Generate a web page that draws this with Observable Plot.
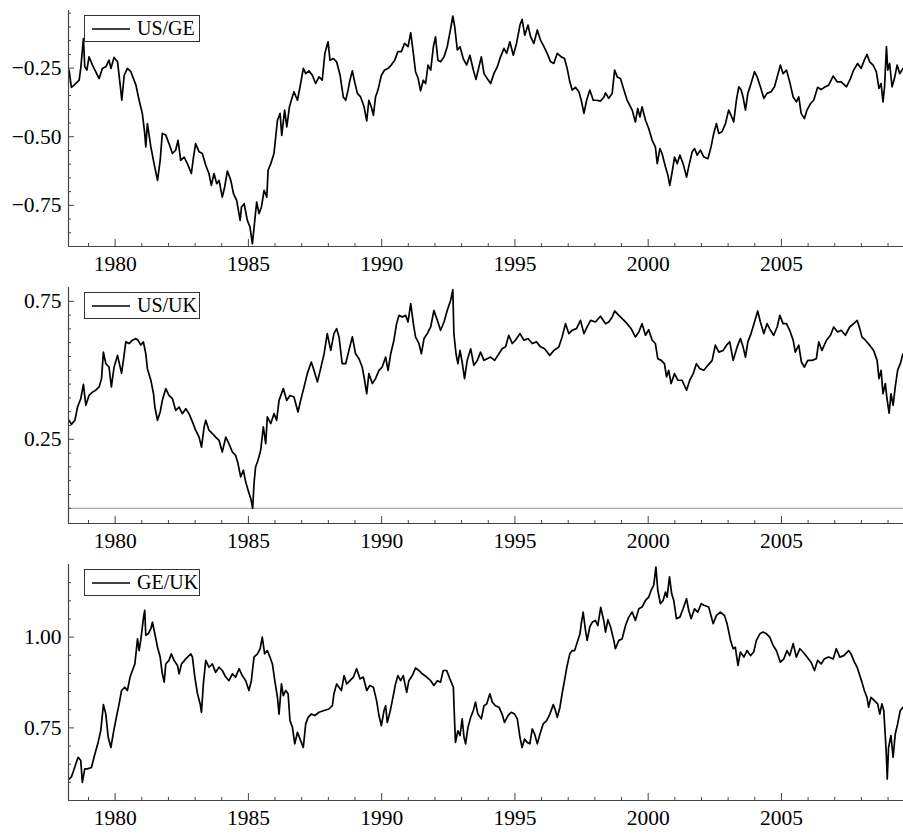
<!DOCTYPE html>
<html>
<head>
<meta charset="utf-8">
<script src="https://cdn.jsdelivr.net/npm/d3@7"></script>
<script src="https://cdn.jsdelivr.net/npm/@observablehq/plot@0.6"></script>
<style>
  html, body { margin: 0; padding: 0; background: #fff; }
  #wrap { position: relative; width: 903px; }
  .panel { position: relative; width: 903px; height: 277px; }
  .panel svg { display: block; }
  .legend {
    position: absolute; left: 84px; width: 116px; height: 27px;
    box-sizing: border-box; border: 1px solid #333; background: #fff;
    display: flex; align-items: center; padding-left: 7px;
    font-family: "Liberation Serif", "DejaVu Serif", serif; font-size: 20px; color: #000;
  }
  .legend svg { display: block; margin-right: 7px; }
</style>
</head>
<body>
<div id="wrap"></div>
<script>
// ---------- data (decimal year, log rate) ----------
const usGe = [
[1978.27,-0.257],[1978.36,-0.32],[1978.46,-0.312],[1978.65,-0.294],[1978.71,-0.25],[1978.81,-0.142],[1978.86,-0.245],[1978.94,-0.257],
[1979.02,-0.209],[1979.15,-0.239],[1979.27,-0.263],[1979.4,-0.288],[1979.52,-0.251],[1979.65,-0.245],[1979.77,-0.221],[1979.84,-0.251],
[1979.96,-0.211],[1980.09,-0.227],[1980.19,-0.312],[1980.25,-0.367],[1980.34,-0.276],[1980.46,-0.251],[1980.59,-0.263],[1980.71,-0.294],
[1980.78,-0.312],[1980.9,-0.367],[1981.02,-0.415],[1981.11,-0.488],[1981.15,-0.537],[1981.21,-0.452],[1981.34,-0.537],[1981.46,-0.598],
[1981.59,-0.659],[1981.69,-0.586],[1981.77,-0.488],[1981.9,-0.494],[1982.02,-0.525],[1982.15,-0.561],[1982.27,-0.549],[1982.36,-0.513],
[1982.46,-0.586],[1982.59,-0.574],[1982.71,-0.598],[1982.86,-0.634],[1982.94,-0.574],[1983.02,-0.525],[1983.15,-0.555],[1983.27,-0.561],
[1983.4,-0.604],[1983.52,-0.634],[1983.61,-0.677],[1983.71,-0.634],[1983.81,-0.671],[1983.9,-0.659],[1984.02,-0.72],[1984.11,-0.683],
[1984.21,-0.625],[1984.34,-0.659],[1984.44,-0.707],[1984.56,-0.732],[1984.69,-0.805],[1984.74,-0.756],[1984.84,-0.744],[1984.96,-0.805],
[1985.06,-0.829],[1985.15,-0.89],[1985.24,-0.805],[1985.31,-0.738],[1985.4,-0.78],[1985.49,-0.756],[1985.59,-0.695],[1985.69,-0.72],
[1985.74,-0.622],[1985.84,-0.598],[1985.96,-0.561],[1986.09,-0.44],[1986.19,-0.415],[1986.25,-0.495],[1986.36,-0.403],[1986.44,-0.464],
[1986.54,-0.391],[1986.61,-0.367],[1986.71,-0.336],[1986.84,-0.367],[1986.96,-0.306],[1987.06,-0.251],[1987.15,-0.27],[1987.27,-0.26],
[1987.4,-0.276],[1987.52,-0.306],[1987.65,-0.282],[1987.77,-0.294],[1987.87,-0.196],[1987.99,-0.154],[1988.06,-0.221],[1988.19,-0.215],
[1988.31,-0.227],[1988.44,-0.276],[1988.56,-0.355],[1988.65,-0.367],[1988.74,-0.33],[1988.81,-0.294],[1988.9,-0.26],[1989.0,-0.306],
[1989.09,-0.342],[1989.21,-0.355],[1989.34,-0.391],[1989.44,-0.442],[1989.52,-0.367],[1989.61,-0.391],[1989.69,-0.422],[1989.77,-0.355],
[1989.86,-0.33],[1989.99,-0.276],[1990.11,-0.257],[1990.24,-0.251],[1990.36,-0.239],[1990.49,-0.221],[1990.61,-0.19],[1990.74,-0.19],
[1990.86,-0.16],[1990.99,-0.172],[1991.09,-0.121],[1991.19,-0.196],[1991.27,-0.263],[1991.37,-0.288],[1991.46,-0.333],[1991.56,-0.294],
[1991.65,-0.306],[1991.74,-0.239],[1991.84,-0.257],[1991.94,-0.172],[1992.02,-0.136],[1992.11,-0.221],[1992.21,-0.227],[1992.34,-0.209],
[1992.46,-0.172],[1992.59,-0.105],[1992.67,-0.06],[1992.74,-0.099],[1992.84,-0.184],[1992.94,-0.172],[1993.06,-0.215],[1993.19,-0.239],
[1993.31,-0.203],[1993.44,-0.257],[1993.54,-0.291],[1993.65,-0.245],[1993.74,-0.209],[1993.84,-0.27],[1993.96,-0.288],[1994.09,-0.306],
[1994.21,-0.27],[1994.34,-0.245],[1994.46,-0.209],[1994.59,-0.178],[1994.69,-0.196],[1994.81,-0.154],[1994.94,-0.203],[1995.06,-0.16],
[1995.19,-0.093],[1995.27,-0.072],[1995.37,-0.13],[1995.49,-0.093],[1995.59,-0.136],[1995.71,-0.16],[1995.84,-0.111],[1995.96,-0.148],
[1996.09,-0.172],[1996.21,-0.196],[1996.34,-0.227],[1996.46,-0.233],[1996.59,-0.196],[1996.74,-0.209],[1996.86,-0.215],[1996.96,-0.251],
[1997.06,-0.3],[1997.15,-0.33],[1997.27,-0.32],[1997.4,-0.336],[1997.49,-0.367],[1997.59,-0.415],[1997.69,-0.367],[1997.81,-0.33],
[1997.94,-0.367],[1998.06,-0.367],[1998.21,-0.37],[1998.34,-0.355],[1998.4,-0.34],[1998.52,-0.36],[1998.65,-0.342],[1998.74,-0.257],
[1998.84,-0.282],[1998.96,-0.288],[1999.09,-0.33],[1999.21,-0.367],[1999.4,-0.403],[1999.52,-0.446],[1999.61,-0.397],[1999.69,-0.428],
[1999.77,-0.391],[1999.9,-0.44],[2000.02,-0.47],[2000.15,-0.513],[2000.27,-0.537],[2000.34,-0.598],[2000.44,-0.543],[2000.52,-0.561],
[2000.65,-0.61],[2000.74,-0.64],[2000.81,-0.677],[2000.9,-0.628],[2000.99,-0.574],[2001.09,-0.598],[2001.19,-0.567],[2001.31,-0.598],
[2001.44,-0.647],[2001.52,-0.61],[2001.65,-0.555],[2001.74,-0.543],[2001.84,-0.567],[2001.96,-0.549],[2002.09,-0.574],[2002.24,-0.58],
[2002.36,-0.537],[2002.46,-0.488],[2002.56,-0.452],[2002.65,-0.488],[2002.77,-0.482],[2002.9,-0.452],[2003.02,-0.403],[2003.11,-0.422],
[2003.21,-0.446],[2003.31,-0.367],[2003.4,-0.318],[2003.49,-0.33],[2003.56,-0.355],[2003.65,-0.403],[2003.74,-0.342],[2003.86,-0.306],
[2003.99,-0.263],[2004.09,-0.282],[2004.21,-0.318],[2004.34,-0.36],[2004.46,-0.342],[2004.61,-0.336],[2004.74,-0.318],[2004.84,-0.282],
[2004.96,-0.239],[2005.06,-0.27],[2005.19,-0.257],[2005.31,-0.3],[2005.44,-0.355],[2005.56,-0.373],[2005.65,-0.355],[2005.74,-0.415],
[2005.86,-0.434],[2005.96,-0.403],[2006.09,-0.379],[2006.21,-0.367],[2006.36,-0.32],[2006.49,-0.328],[2006.61,-0.32],[2006.77,-0.312],
[2006.94,-0.279],[2007.09,-0.3],[2007.24,-0.3],[2007.44,-0.318],[2007.59,-0.288],[2007.71,-0.257],[2007.86,-0.233],[2007.99,-0.251],
[2008.11,-0.221],[2008.21,-0.2],[2008.31,-0.227],[2008.44,-0.239],[2008.56,-0.263],[2008.66,-0.324],[2008.74,-0.306],[2008.81,-0.373],
[2008.87,-0.318],[2008.94,-0.172],[2008.99,-0.257],[2009.06,-0.233],[2009.15,-0.318],[2009.24,-0.288],[2009.34,-0.239],[2009.44,-0.27],
[2009.56,-0.251]
];

const usUk = [
[1978.27,0.319],[1978.36,0.304],[1978.49,0.319],[1978.59,0.367],[1978.71,0.397],[1978.81,0.449],[1978.9,0.373],[1979.02,0.409],
[1979.15,0.421],[1979.27,0.428],[1979.4,0.44],[1979.49,0.47],[1979.56,0.566],[1979.65,0.524],[1979.77,0.512],[1979.86,0.44],
[1979.96,0.512],[1980.09,0.554],[1980.24,0.49],[1980.31,0.536],[1980.4,0.603],[1980.52,0.597],[1980.65,0.609],[1980.78,0.615],
[1980.86,0.609],[1980.96,0.591],[1981.06,0.603],[1981.15,0.56],[1981.21,0.506],[1981.34,0.464],[1981.44,0.415],[1981.49,0.367],
[1981.59,0.319],[1981.69,0.349],[1981.77,0.391],[1981.9,0.434],[1982.02,0.409],[1982.15,0.397],[1982.27,0.355],[1982.4,0.367],
[1982.52,0.343],[1982.65,0.361],[1982.77,0.343],[1982.9,0.313],[1983.02,0.283],[1983.15,0.258],[1983.24,0.222],[1983.34,0.295],
[1983.4,0.319],[1983.52,0.283],[1983.65,0.271],[1983.77,0.258],[1983.9,0.246],[1984.02,0.204],[1984.15,0.258],[1984.27,0.234],
[1984.4,0.204],[1984.52,0.192],[1984.61,0.162],[1984.71,0.114],[1984.81,0.138],[1984.9,0.095],[1984.99,0.065],[1985.09,0.035],
[1985.16,0.0],[1985.21,0.089],[1985.27,0.15],[1985.36,0.174],[1985.46,0.21],[1985.56,0.295],[1985.65,0.234],[1985.71,0.331],
[1985.84,0.307],[1985.96,0.343],[1986.06,0.319],[1986.15,0.391],[1986.31,0.434],[1986.44,0.391],[1986.56,0.409],[1986.71,0.403],
[1986.86,0.349],[1986.96,0.391],[1987.09,0.44],[1987.21,0.488],[1987.36,0.53],[1987.46,0.5],[1987.59,0.458],[1987.71,0.506],
[1987.84,0.56],[1987.96,0.633],[1988.09,0.572],[1988.21,0.633],[1988.31,0.651],[1988.4,0.621],[1988.52,0.524],[1988.65,0.524],
[1988.77,0.572],[1988.9,0.621],[1989.02,0.56],[1989.15,0.542],[1989.27,0.512],[1989.36,0.464],[1989.44,0.415],[1989.52,0.488],
[1989.65,0.452],[1989.77,0.47],[1989.9,0.5],[1990.02,0.512],[1990.15,0.548],[1990.24,0.5],[1990.34,0.56],[1990.46,0.609],
[1990.56,0.669],[1990.65,0.699],[1990.77,0.693],[1990.9,0.699],[1990.99,0.675],[1991.09,0.742],[1991.19,0.669],[1991.27,0.621],
[1991.4,0.597],[1991.49,0.56],[1991.59,0.615],[1991.71,0.633],[1991.84,0.657],[1991.96,0.717],[1992.09,0.681],[1992.21,0.645],
[1992.34,0.675],[1992.46,0.717],[1992.59,0.754],[1992.67,0.792],[1992.71,0.633],[1992.79,0.56],[1992.86,0.524],[1992.94,0.572],
[1993.02,0.53],[1993.11,0.47],[1993.21,0.536],[1993.34,0.578],[1993.46,0.518],[1993.59,0.536],[1993.71,0.566],[1993.84,0.536],
[1993.96,0.542],[1994.09,0.548],[1994.24,0.536],[1994.4,0.56],[1994.52,0.578],[1994.65,0.585],[1994.77,0.627],[1994.9,0.597],
[1995.02,0.609],[1995.19,0.633],[1995.34,0.609],[1995.49,0.615],[1995.65,0.597],[1995.81,0.603],[1995.96,0.585],[1996.11,0.578],
[1996.31,0.554],[1996.46,0.572],[1996.65,0.585],[1996.77,0.621],[1996.9,0.669],[1997.02,0.633],[1997.15,0.645],[1997.31,0.651],
[1997.46,0.681],[1997.59,0.633],[1997.71,0.657],[1997.84,0.681],[1998.02,0.675],[1998.21,0.696],[1998.4,0.669],[1998.52,0.675],
[1998.65,0.693],[1998.74,0.715],[1998.9,0.699],[1999.09,0.681],[1999.21,0.669],[1999.36,0.651],[1999.52,0.621],[1999.65,0.639],
[1999.77,0.669],[1999.9,0.627],[2000.02,0.647],[2000.15,0.609],[2000.27,0.597],[2000.36,0.542],[2000.49,0.536],[2000.61,0.524],
[2000.69,0.476],[2000.77,0.5],[2000.86,0.452],[2000.99,0.488],[2001.11,0.464],[2001.27,0.464],[2001.44,0.428],[2001.56,0.464],
[2001.69,0.488],[2001.81,0.524],[2001.94,0.506],[2002.09,0.5],[2002.24,0.518],[2002.4,0.536],[2002.52,0.591],[2002.65,0.566],
[2002.81,0.572],[2002.94,0.591],[2003.06,0.603],[2003.19,0.536],[2003.34,0.585],[2003.46,0.615],[2003.56,0.585],[2003.65,0.548],
[2003.74,0.603],[2003.86,0.633],[2003.99,0.675],[2004.11,0.715],[2004.21,0.675],[2004.34,0.633],[2004.46,0.669],[2004.59,0.645],
[2004.71,0.627],[2004.84,0.657],[2004.94,0.699],[2005.06,0.669],[2005.19,0.669],[2005.31,0.645],[2005.44,0.609],[2005.52,0.566],
[2005.65,0.591],[2005.75,0.53],[2005.86,0.512],[2005.99,0.536],[2006.15,0.536],[2006.31,0.542],[2006.4,0.603],[2006.52,0.572],
[2006.69,0.609],[2006.84,0.627],[2006.96,0.657],[2007.11,0.639],[2007.24,0.645],[2007.4,0.627],[2007.56,0.657],[2007.71,0.669],
[2007.84,0.681],[2007.94,0.651],[2008.02,0.621],[2008.15,0.609],[2008.31,0.591],[2008.46,0.572],[2008.59,0.536],[2008.66,0.47],
[2008.74,0.5],[2008.81,0.415],[2008.9,0.452],[2008.96,0.397],[2009.04,0.345],[2009.11,0.415],[2009.19,0.373],[2009.27,0.44],
[2009.36,0.5],[2009.46,0.524],[2009.56,0.56]
];

const geUk = [
[1978.27,0.609],[1978.36,0.615],[1978.44,0.632],[1978.52,0.65],[1978.61,0.669],[1978.71,0.66],[1978.77,0.6],[1978.86,0.637],
[1978.96,0.637],[1979.11,0.641],[1979.24,0.678],[1979.36,0.71],[1979.46,0.742],[1979.56,0.814],[1979.65,0.788],[1979.74,0.724],
[1979.84,0.696],[1979.96,0.747],[1980.06,0.784],[1980.15,0.816],[1980.24,0.853],[1980.36,0.862],[1980.46,0.853],[1980.56,0.89],
[1980.65,0.908],[1980.74,0.926],[1980.84,0.995],[1980.9,0.963],[1980.96,0.991],[1981.06,1.051],[1981.11,1.074],[1981.15,1.005],
[1981.24,1.009],[1981.34,1.023],[1981.4,1.041],[1981.49,1.009],[1981.59,0.972],[1981.69,0.945],[1981.77,0.899],[1981.84,0.876],
[1981.9,0.926],[1982.02,0.936],[1982.11,0.954],[1982.21,0.936],[1982.34,0.922],[1982.4,0.899],[1982.49,0.926],[1982.65,0.94],
[1982.84,0.954],[1982.9,0.945],[1982.99,0.89],[1983.09,0.844],[1983.19,0.816],[1983.24,0.793],[1983.31,0.871],[1983.4,0.936],
[1983.52,0.917],[1983.65,0.926],[1983.77,0.903],[1983.9,0.917],[1984.02,0.908],[1984.15,0.89],[1984.27,0.88],[1984.4,0.899],
[1984.52,0.89],[1984.65,0.913],[1984.77,0.894],[1984.9,0.88],[1985.02,0.853],[1985.11,0.88],[1985.21,0.945],[1985.34,0.954],
[1985.44,0.968],[1985.52,1.0],[1985.61,0.954],[1985.71,0.963],[1985.81,0.945],[1985.9,0.926],[1985.99,0.88],[1986.09,0.834],
[1986.15,0.788],[1986.24,0.871],[1986.31,0.839],[1986.4,0.853],[1986.49,0.844],[1986.56,0.77],[1986.65,0.752],[1986.74,0.706],
[1986.84,0.738],[1986.96,0.715],[1987.06,0.696],[1987.15,0.761],[1987.24,0.779],[1987.36,0.788],[1987.49,0.784],[1987.65,0.793],
[1987.84,0.798],[1988.02,0.802],[1988.15,0.811],[1988.21,0.844],[1988.31,0.871],[1988.4,0.862],[1988.49,0.853],[1988.59,0.894],
[1988.69,0.871],[1988.81,0.88],[1988.94,0.89],[1989.06,0.913],[1989.19,0.885],[1989.31,0.89],[1989.44,0.853],[1989.56,0.867],
[1989.69,0.862],[1989.81,0.825],[1989.9,0.784],[1989.99,0.756],[1990.09,0.798],[1990.15,0.811],[1990.21,0.765],[1990.31,0.793],
[1990.4,0.825],[1990.52,0.871],[1990.61,0.894],[1990.71,0.88],[1990.81,0.894],[1990.94,0.848],[1991.02,0.88],[1991.15,0.894],
[1991.27,0.915],[1991.4,0.908],[1991.52,0.899],[1991.69,0.89],[1991.84,0.88],[1991.96,0.867],[1992.09,0.88],[1992.21,0.876],
[1992.31,0.908],[1992.44,0.908],[1992.56,0.885],[1992.69,0.862],[1992.74,0.761],[1992.77,0.71],[1992.86,0.742],[1992.94,0.729],
[1993.02,0.775],[1993.09,0.724],[1993.15,0.706],[1993.24,0.752],[1993.34,0.779],[1993.44,0.798],[1993.52,0.821],[1993.61,0.788],
[1993.74,0.775],[1993.84,0.811],[1993.94,0.816],[1994.06,0.844],[1994.15,0.821],[1994.27,0.811],[1994.4,0.807],[1994.52,0.788],
[1994.61,0.765],[1994.74,0.784],[1994.86,0.793],[1994.99,0.788],[1995.09,0.775],[1995.19,0.724],[1995.27,0.696],[1995.36,0.719],
[1995.46,0.71],[1995.56,0.706],[1995.65,0.747],[1995.74,0.733],[1995.84,0.706],[1995.94,0.733],[1996.06,0.761],[1996.19,0.77],
[1996.31,0.788],[1996.44,0.814],[1996.52,0.798],[1996.59,0.779],[1996.69,0.807],[1996.77,0.844],[1996.86,0.88],[1996.96,0.922],
[1997.06,0.954],[1997.15,0.963],[1997.24,0.963],[1997.34,0.986],[1997.44,1.009],[1997.49,1.037],[1997.56,1.069],[1997.65,1.018],
[1997.71,0.991],[1997.81,1.028],[1997.9,1.041],[1998.02,1.046],[1998.11,1.032],[1998.22,1.082],[1998.34,1.043],[1998.4,1.014],
[1998.49,1.048],[1998.59,1.028],[1998.71,0.991],[1998.77,0.968],[1998.9,0.991],[1999.02,0.995],[1999.15,1.032],[1999.27,1.055],
[1999.4,1.069],[1999.52,1.046],[1999.65,1.078],[1999.77,1.083],[1999.9,1.101],[2000.02,1.11],[2000.11,1.129],[2000.21,1.143],
[2000.29,1.193],[2000.36,1.129],[2000.46,1.092],[2000.56,1.101],[2000.65,1.124],[2000.71,1.11],[2000.8,1.166],[2000.88,1.12],
[2000.96,1.101],[2001.06,1.051],[2001.19,1.055],[2001.31,1.078],[2001.44,1.106],[2001.52,1.074],[2001.61,1.051],[2001.74,1.078],
[2001.86,1.069],[2001.99,1.092],[2002.11,1.087],[2002.27,1.083],[2002.44,1.037],[2002.56,1.06],[2002.71,1.069],[2002.86,1.06],
[2002.96,1.037],[2003.09,0.991],[2003.19,0.968],[2003.27,0.972],[2003.37,0.922],[2003.46,0.959],[2003.59,0.945],[2003.71,0.963],
[2003.84,0.949],[2003.96,0.959],[2004.06,0.991],[2004.19,1.009],[2004.31,1.014],[2004.44,1.009],[2004.56,1.0],[2004.69,0.977],
[2004.81,0.963],[2004.96,0.931],[2005.09,0.94],[2005.21,0.963],[2005.31,0.949],[2005.44,0.982],[2005.56,0.945],[2005.69,0.968],
[2005.81,0.959],[2005.96,0.945],[2006.11,0.931],[2006.24,0.908],[2006.36,0.936],[2006.49,0.926],[2006.61,0.94],[2006.77,0.945],
[2006.94,0.94],[2007.06,0.968],[2007.19,0.945],[2007.34,0.949],[2007.52,0.963],[2007.61,0.954],[2007.74,0.931],[2007.84,0.917],
[2007.94,0.894],[2008.02,0.876],[2008.11,0.853],[2008.21,0.834],[2008.27,0.807],[2008.36,0.834],[2008.49,0.825],[2008.61,0.816],
[2008.69,0.788],[2008.77,0.816],[2008.84,0.798],[2008.9,0.724],[2008.94,0.669],[2008.97,0.609],[2009.02,0.696],[2009.11,0.729],
[2009.19,0.669],[2009.27,0.733],[2009.36,0.761],[2009.46,0.798],[2009.56,0.807]
];

// ---------- axes / ticks ----------
const xDomain = [1978.25, 2009.58];
const xMajor = [1980, 1985, 1990, 1995, 2000, 2005];
const xMinor = [1979,1981,1982,1983,1984,1986,1987,1988,1989,1991,1992,1993,1994,1996,1997,1998,1999,2001,2002,2003,2004,2006,2007,2008,2009];

const panels = [
  { name: "US/GE", data: usGe, yDomain: [-0.90, -0.04],
    yMajor: [-0.75, -0.50, -0.25],
    yMinor: [-0.85,-0.80,-0.70,-0.65,-0.60,-0.55,-0.45,-0.40,-0.35,-0.30,-0.20,-0.15,-0.10,-0.05],
    zero: [] },
  { name: "US/UK", data: usUk, yDomain: [-0.055, 0.80],
    yMajor: [0.25, 0.75],
    yMinor: [0.00,0.05,0.10,0.15,0.20,0.30,0.35,0.40,0.45,0.50,0.55,0.60,0.65,0.70],
    zero: [0] },
  { name: "GE/UK", data: geUk, yDomain: [0.55, 1.20],
    yMajor: [0.75, 1.00],
    yMinor: [0.60,0.65,0.70,0.80,0.85,0.90,0.95,1.05,1.10,1.15],
    zero: [] }
];

const W = 903, H = 277, mT = 10, mB = 31, mL = 68, mR = 0;
const plotW = W - mL - mR, plotH = H - mT - mB;
const font = "'Liberation Serif', 'DejaVu Serif', serif";
const axisColor = "#444";
const fmtY = d => d3.format(".2f")(d).replace("-", "\u2212");

const wrap = document.getElementById("wrap");

for (const p of panels) {
  const chart = Plot.plot({
    width: W, height: H,
    marginTop: mT, marginBottom: mB, marginLeft: mL, marginRight: mR,
    style: { fontFamily: font, fontSize: "21.5px", color: "#000", background: "#fff" },
    x: { domain: xDomain },
    y: { domain: p.yDomain },
    marks: [
      Plot.ruleY(p.zero, { stroke: "#aaa", strokeWidth: 1.2 }),
      Plot.line(p.data, { x: d => d[0], y: d => d[1], stroke: "#000", strokeWidth: 1.7, strokeLinejoin: "round" }),
      // axis lines
      Plot.ruleX([xDomain[0]], { stroke: axisColor, strokeWidth: 1.2 }),
      Plot.ruleY([p.yDomain[0]], { stroke: axisColor, strokeWidth: 1.2 }),
      // inward ticks
      Plot.tickX(xMajor, { x: d => d, stroke: axisColor, insetTop: plotH - 7 }),
      Plot.tickX(xMinor, { x: d => d, stroke: axisColor, insetTop: plotH - 3 }),
      Plot.tickY(p.yMajor, { y: d => d, stroke: axisColor, insetRight: plotW - 6 }),
      Plot.tickY(p.yMinor, { y: d => d, stroke: axisColor, insetRight: plotW - 3 }),
      // labels
      Plot.axisX(xMajor, { tickSize: 0, tickPadding: 9, tickFormat: d => String(d), fill: "#000", fontSize: 21.5 }),
      Plot.axisY(p.yMajor, { tickSize: 0, tickPadding: 7, tickFormat: fmtY, fill: "#000", fontSize: 21.5 })
    ]
  });
  const div = document.createElement("div");
  div.className = "panel";
  div.appendChild(chart);
  const lg = document.createElement("div");
  lg.className = "legend";
  lg.style.top = (mT + 5) + "px";
  lg.innerHTML = `<svg width="38" height="4"><line x1="0" y1="2" x2="38" y2="2" stroke="#000" stroke-width="1.3"/></svg><span>${p.name}</span>`;
  div.appendChild(lg);
  wrap.appendChild(div);
}
</script>
</body>
</html>
